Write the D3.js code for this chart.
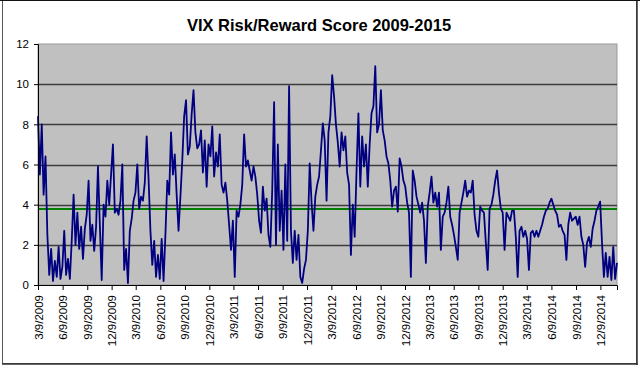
<!DOCTYPE html>
<html><head><meta charset="utf-8">
<script src="https://cdn.jsdelivr.net/npm/d3@7"></script>
<style>html,body{margin:0;padding:0;background:#fff;} svg{display:block;}</style>
</head><body>
<svg id="c" width="640" height="368"></svg>
<script>
const title = "VIX Risk/Reward Score 2009-2015";
const startDate = "3/9/2009";
const stepDays = 7;
const scores = [
8.4, 5.5, 8.0, 4.5, 6.4, 2.5, 0.5, 1.8, 0.2, 1.2,
0.4, 1.9, 0.3, 0.9, 2.7, 0.5, 1.3, 0.3, 2.2, 4.5,
2.0, 3.6, 1.8, 2.9, 1.3, 2.8, 3.5, 5.2, 2.2, 3.0,
1.7, 2.9, 5.9, 3.0, 0.25, 4.0, 3.4, 5.2, 4.0, 5.5,
7.0, 3.6, 3.8, 3.5, 4.2, 6.0, 0.75, 1.8, 0.1, 2.7,
3.3, 4.2, 4.6, 6.0, 3.8, 4.4, 4.2, 5.1, 7.4, 5.3,
2.7, 1.0, 2.2, 0.4, 1.5, 0.3, 2.3, 0.2, 2.5, 5.2,
4.5, 7.6, 5.5, 6.5, 4.5, 2.7, 4.4, 6.2, 8.4, 9.2,
6.5, 6.9, 8.5, 9.7, 7.6, 6.8, 7.0, 7.7, 5.6, 7.2,
4.9, 7.0, 6.4, 7.9, 5.4, 6.6, 5.9, 7.5, 5.0, 4.6,
5.1, 4.2, 3.0, 1.75, 3.2, 0.4, 3.7, 3.4, 4.0, 5.0,
7.5, 5.9, 6.2, 5.7, 5.2, 5.9, 5.4, 4.5, 3.2, 2.6,
4.9, 3.7, 4.3, 2.5, 1.9, 4.7, 9.1, 2.0, 7.0, 2.7,
4.7, 1.75, 6.0, 2.2, 9.9, 2.7, 1.1, 2.7, 1.25, 2.5,
0.4, 0.1, 0.8, 1.25, 2.7, 6.05, 4.1, 2.7, 4.4, 5.0,
5.4, 6.7, 8.05, 7.2, 4.2, 7.6, 8.4, 10.45, 9.4, 8.0,
7.1, 5.9, 7.6, 6.7, 7.4, 5.6, 5.0, 1.5, 4.0, 2.4,
5.7, 8.55, 4.9, 7.4, 5.9, 7.0, 4.9, 7.0, 8.55, 8.9,
10.9, 7.6, 8.0, 9.7, 7.7, 7.2, 6.4, 6.05, 5.2, 3.9,
4.7, 4.9, 3.65, 6.3, 5.9, 5.2, 4.9, 4.1, 3.6, 0.4,
5.7, 5.2, 4.4, 4.0, 3.6, 4.1, 3.2, 1.1, 3.9, 4.6,
5.4, 4.1, 4.6, 3.9, 4.6, 1.75, 3.4, 3.6, 4.1, 4.9,
3.4, 3.0, 2.5, 1.9, 1.25, 3.6, 4.1, 4.6, 5.2, 4.4,
4.7, 4.6, 5.2, 3.5, 2.7, 2.4, 3.9, 3.7, 3.6, 2.1,
0.75, 3.8, 4.0, 4.5, 5.2, 5.7, 4.6, 3.8, 3.6, 1.75,
3.6, 3.4, 3.2, 3.7, 3.7, 2.4, 0.4, 2.7, 2.9, 2.4,
2.7, 2.3, 0.75, 2.6, 2.7, 2.4, 2.7, 2.4, 2.7, 3.0,
3.4, 3.7, 3.8, 4.1, 4.3, 4.0, 3.7, 3.5, 2.9, 3.0,
2.7, 2.5, 1.25, 3.0, 3.6, 3.2, 3.3, 3.4, 3.0, 3.4,
2.4, 2.0, 0.9, 2.1, 2.4, 1.9, 2.8, 3.2, 3.7, 3.9,
4.15, 2.1, 0.4, 1.6, 0.4, 1.4, 0.25, 1.9, 0.3, 1.1
];
const average = 3.78;
const yTicks = [0, 2, 4, 6, 8, 10, 12];
const xTickLabels = [
"3/9/2009","6/9/2009","9/9/2009","12/9/2009",
"3/9/2010","6/9/2010","9/9/2010","12/9/2010",
"3/9/2011","6/9/2011","9/9/2011","12/9/2011",
"3/9/2012","6/9/2012","9/9/2012","12/9/2012",
"3/9/2013","6/9/2013","9/9/2013","12/9/2013",
"3/9/2014","6/9/2014","9/9/2014","12/9/2014"
];

const parse = d3.timeParse("%m/%d/%Y");
const fmt = d3.timeFormat("%-m/%-d/%Y");
const t0 = parse(startDate);
const data = scores.map((v, i) => ({date: d3.timeDay.offset(t0, i * stepDays), value: v}));

const svg = d3.select("#c");
const font = "'Liberation Sans', Arial, sans-serif";
const L = 38, R = 617, T = 44, B = 285;

// chart frame
svg.append("rect").attr("x", 2.5).attr("y", 0.5).attr("width", 634).attr("height", 363)
  .attr("fill", "#fff").attr("stroke", "#555").attr("stroke-width", 1);
svg.append("line").attr("x1", 637).attr("x2", 637).attr("y1", 0).attr("y2", 365)
  .attr("stroke", "#333").attr("stroke-width", 1.5);
svg.append("line").attr("x1", 2).attr("x2", 638).attr("y1", 364).attr("y2", 364)
  .attr("stroke", "#333").attr("stroke-width", 1.5);
svg.append("line").attr("x1", 0).attr("x2", 640).attr("y1", 0.5).attr("y2", 0.5)
  .attr("stroke", "#111").attr("stroke-width", 1);

const x = d3.scaleTime().domain([t0, data[data.length - 1].date]).range([L, R]);
const y = d3.scaleLinear().domain([0, 12]).range([B, T]);

svg.append("rect").attr("x", L).attr("y", T).attr("width", R - L).attr("height", B - T)
  .attr("fill", "#c0c0c0").attr("stroke", "#999").attr("stroke-width", 1);

// gridlines
svg.append("g").selectAll("line").data(yTicks.filter(d => d > 0 && d < 12)).join("line")
  .attr("x1", L).attr("x2", R).attr("y1", d => Math.round(y(d)) + 0.5).attr("y2", d => Math.round(y(d)) + 0.5)
  .attr("stroke", "#3c3c3c").attr("stroke-width", 1.3);

// title
svg.append("text").attr("x", 319).attr("y", 31).attr("text-anchor", "middle")
  .attr("font-family", font).attr("font-weight", "bold").attr("font-size", 16.5)
  .attr("fill", "#000").text(title);

// average line
svg.append("line").attr("x1", L).attr("x2", R).attr("y1", y(average)).attr("y2", y(average))
  .attr("stroke", "#008000").attr("stroke-width", 2);

// series
const line = d3.line().x(d => x(d.date)).y(d => y(d.value));
svg.append("path").datum(data).attr("d", line).attr("fill", "none")
  .attr("stroke", "#000080").attr("stroke-width", 1.8).attr("stroke-linejoin", "round");

// y axis
const ya = svg.append("g").attr("transform", `translate(${L},0)`)
  .call(d3.axisLeft(y).tickValues(yTicks).tickSize(4).tickPadding(5).tickFormat(d3.format("d")));
ya.select(".domain").attr("stroke", "#000");
ya.selectAll("line").attr("stroke", "#000");
ya.selectAll("text").attr("font-family", font).attr("font-size", 11.5).attr("fill", "#000");

// x axis
const xa = svg.append("g").attr("transform", `translate(0,${B})`)
  .call(d3.axisBottom(x).tickValues(xTickLabels.map(parse)).tickSize(5).tickFormat(fmt));
xa.select(".domain").attr("stroke", "#000");
xa.selectAll("line").attr("stroke", "#000");
xa.selectAll("text").attr("font-family", font).attr("font-size", 11.5).attr("fill", "#000")
  .attr("transform", "rotate(-90)").attr("text-anchor", "end")
  .attr("x", -10).attr("y", 0).attr("dy", "0.35em");
</script>
</body></html>
